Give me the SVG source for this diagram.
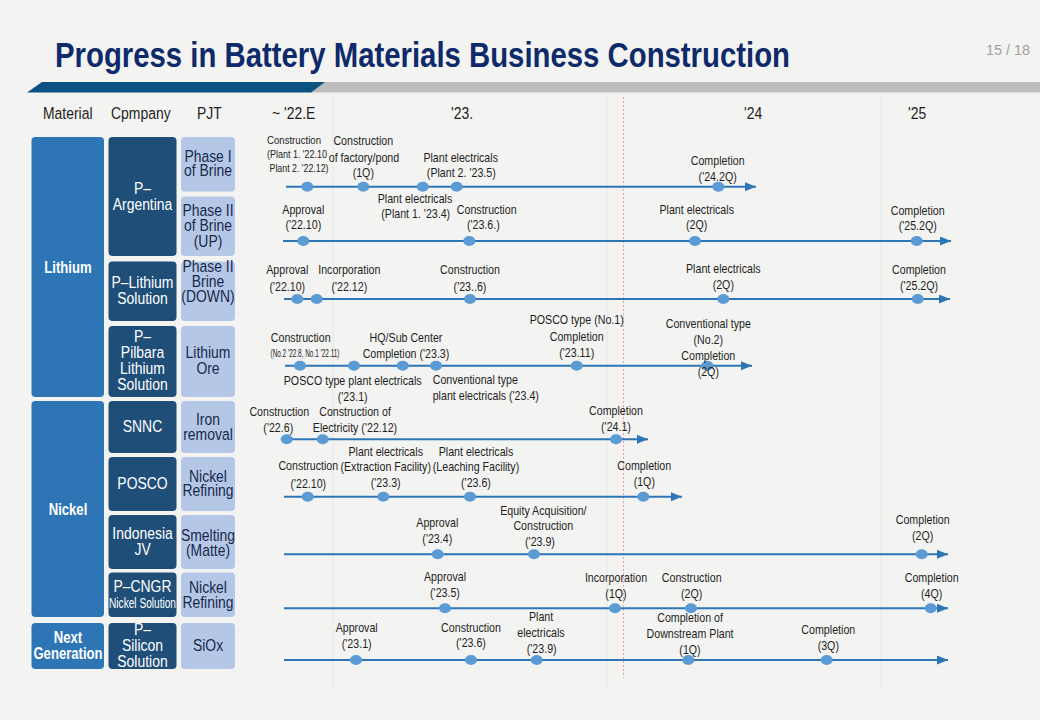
<svg xmlns="http://www.w3.org/2000/svg" width="1040" height="720" viewBox="0 0 1040 720">
<defs>
<style>
text{font-family:"Liberation Sans",Arial,sans-serif;}
.lb,.cotx,.pjtx,.cattx{transform:scaleX(0.82);transform-box:fill-box;transform-origin:center;}
.hd,.lbl{transform:scaleX(0.82);transform-box:fill-box;transform-origin:left center;}
.lb{font-size:13px;fill:#1e1e1e;text-anchor:middle;}
.lbl{font-size:13px;fill:#1e1e1e;text-anchor:start;}
.sm{font-size:11px;fill:#1e1e1e;text-anchor:middle;}
.hd{font-size:17px;fill:#1e1e1e;text-anchor:start;}
.cat{fill:#2e75b6;}
.co{fill:#1f4e79;}
.pj{fill:#b4c7e7;}
.cattx{font-size:16px;font-weight:bold;fill:#ffffff;text-anchor:middle;}
.cotx{font-size:17px;fill:#ffffff;text-anchor:middle;}
.cosm{font-size:14px;fill:#ffffff;text-anchor:middle;}
.pjtx{font-size:17px;fill:#182a4a;text-anchor:middle;}
.tl{stroke:#2e75b6;stroke-width:2;fill:none;marker-end:url(#arr);}
.dot{fill:#5b9bd5;}
</style>
<marker id="arr" markerUnits="userSpaceOnUse" markerWidth="12" markerHeight="10" refX="11" refY="4.5" orient="auto">
<path d="M0,0 L11,4.5 L0,9 z" fill="#2e75b6"/>
</marker>
</defs>
<rect x="0" y="0" width="1040" height="720" fill="#f3f3f1"/>

<g id="header">
<text x="55" y="67" font-size="35" font-weight="bold" fill="#0e2a6a" textLength="735" lengthAdjust="spacingAndGlyphs">Progress in Battery Materials Business Construction</text>
<text x="1030" y="55" font-size="15" fill="#a0a0a0" text-anchor="end" textLength="44" lengthAdjust="spacingAndGlyphs">15 / 18</text>
<rect x="310" y="82" width="730" height="10.5" fill="#bdbdbb"/>
<polygon points="27,92.5 42,82 325,82 311,92.5" fill="#0b5283"/>
<text class="hd" x="43" y="119">Material</text>
<text class="hd" x="111" y="119">Cpmpany</text>
<text class="hd" x="197" y="119">PJT</text>
<text class="hd" x="272" y="119">~ '22.E</text>
<text class="hd" x="451" y="119">'23.</text>
<text class="hd" x="744" y="119">'24</text>
<text class="hd" x="908" y="119">'25</text>
</g>

<g id="gridlines">
<line x1="333" y1="97" x2="333" y2="690" stroke="#e6e6e4" stroke-width="1"/>
<line x1="607" y1="97" x2="607" y2="690" stroke="#e6e6e4" stroke-width="1"/>
<line x1="881" y1="97" x2="881" y2="690" stroke="#e6e6e4" stroke-width="1"/>
<line x1="623.5" y1="97" x2="623.5" y2="678" stroke="#e9a3a3" stroke-width="1" stroke-dasharray="2,2"/>
</g>

<g id="cat-lithium"><rect class="cat" x="31.5" y="137" width="72.5" height="260" rx="4"/><text class="cattx" x="68" y="273">Lithium</text></g>
<g id="cat-nickel"><rect class="cat" x="31.5" y="401" width="72.5" height="216" rx="4"/><text class="cattx" x="68" y="515">Nickel</text></g>
<g id="cat-next"><rect class="cat" x="31.5" y="623" width="72.5" height="46" rx="4"/><text class="cattx" x="68" y="643">Next</text><text class="cattx" x="68" y="659">Generation</text></g>

<g id="co-argentina"><rect class="co" x="108.5" y="137" width="68" height="119" rx="4"/><text class="cotx" x="142.5" y="194">P–</text><text class="cotx" x="142.5" y="210">Argentina</text></g>
<g id="co-plithium"><rect class="co" x="108.5" y="261.5" width="68" height="59.5" rx="4"/><text class="cotx" x="142.5" y="288.5">P–Lithium</text><text class="cotx" x="142.5" y="304">Solution</text></g>
<g id="co-pilbara"><rect class="co" x="108.5" y="326" width="68" height="71" rx="4"/><text class="cotx" x="142.5" y="342.5">P–</text><text class="cotx" x="142.5" y="358.5">Pilbara</text><text class="cotx" x="142.5" y="374">Lithium</text><text class="cotx" x="142.5" y="390">Solution</text></g>
<g id="co-snnc"><rect class="co" x="108.5" y="401" width="68" height="52" rx="4"/><text class="cotx" x="142.5" y="432">SNNC</text></g>
<g id="co-posco"><rect class="co" x="108.5" y="457" width="68" height="54" rx="4"/><text class="cotx" x="142.5" y="489">POSCO</text></g>
<g id="co-indonesia"><rect class="co" x="108.5" y="515" width="68" height="54" rx="4"/><text class="cotx" x="142.5" y="539">Indonesia</text><text class="cotx" x="142.5" y="555">JV</text></g>
<g id="co-pcngr"><rect class="co" x="108.5" y="572.5" width="68" height="44.5" rx="4"/><text class="cotx" x="142.5" y="592">P–CNGR</text><text class="cosm" x="142.5" y="607.5" textLength="67" lengthAdjust="spacingAndGlyphs">Nickel Solution</text></g>
<g id="co-psilicon"><rect class="co" x="108.5" y="623" width="68" height="46" rx="4"/><text class="cotx" x="142.5" y="635">P–</text><text class="cotx" x="142.5" y="651.5">Silicon</text><text class="cotx" x="142.5" y="667">Solution</text></g>

<g id="pj-phase1"><rect class="pj" x="181" y="137" width="54" height="54.5" rx="4"/><text class="pjtx" x="208" y="162">Phase I</text><text class="pjtx" x="208" y="176.5">of Brine</text></g>
<g id="pj-phase2up"><rect class="pj" x="181" y="196.5" width="54" height="59.5" rx="4"/><text class="pjtx" x="208" y="216.5">Phase II</text><text class="pjtx" x="208" y="231.5">of Brine</text><text class="pjtx" x="208" y="247">(UP)</text></g>
<g id="pj-phase2down"><rect class="pj" x="181" y="261.5" width="54" height="59.5" rx="4"/><text class="pjtx" x="208" y="272">Phase II</text><text class="pjtx" x="208" y="287.5">Brine</text><text class="pjtx" x="208" y="302.5">(DOWN)</text></g>
<g id="pj-ore"><rect class="pj" x="181" y="326" width="54" height="71" rx="4"/><text class="pjtx" x="208" y="358.5">Lithium</text><text class="pjtx" x="208" y="374">Ore</text></g>
<g id="pj-iron"><rect class="pj" x="181" y="401" width="54" height="52" rx="4"/><text class="pjtx" x="208" y="425">Iron</text><text class="pjtx" x="208" y="440">removal</text></g>
<g id="pj-nickel1"><rect class="pj" x="181" y="457" width="54" height="54" rx="4"/><text class="pjtx" x="208" y="482">Nickel</text><text class="pjtx" x="208" y="496.5">Refining</text></g>
<g id="pj-smelting"><rect class="pj" x="181" y="515" width="54" height="54" rx="4"/><text class="pjtx" x="208" y="541">Smelting</text><text class="pjtx" x="208" y="556">(Matte)</text></g>
<g id="pj-nickel2"><rect class="pj" x="181" y="572.5" width="54" height="44.5" rx="4"/><text class="pjtx" x="208" y="593">Nickel</text><text class="pjtx" x="208" y="608">Refining</text></g>
<g id="pj-siox"><rect class="pj" x="181" y="623" width="54" height="46" rx="4"/><text class="pjtx" x="208" y="651.5">SiOx</text></g>

<g id="connectors">
<path class="tl" d="M286,186.7 H756"/>
<path class="tl" d="M283,241 H951"/>
<path class="tl" d="M284,299 H950"/>
<path class="tl" d="M285,365.7 H752"/>
<path class="tl" d="M284,439.3 H648"/>
<path class="tl" d="M284,496.7 H682"/>
<path class="tl" d="M284,554.3 H948"/>
<path class="tl" d="M284,608.3 H948"/>
<path class="tl" d="M284,660 H948"/>
</g>

<g id="row-phase1">
<ellipse class="dot" cx="307.3" cy="186.7" rx="6" ry="5"/><ellipse class="dot" cx="363.3" cy="186.7" rx="6" ry="5"/><ellipse class="dot" cx="422.7" cy="186.7" rx="6" ry="5"/><ellipse class="dot" cx="456.7" cy="186.7" rx="6" ry="5"/><ellipse class="dot" cx="718.3" cy="186.7" rx="6" ry="5"/>
<text class="sm" x="294" y="144" textLength="54" lengthAdjust="spacingAndGlyphs">Construction</text>
<text class="sm" x="297" y="158" textLength="60" lengthAdjust="spacingAndGlyphs">(Plant 1. '22.10</text>
<text class="sm" x="299" y="172" textLength="59" lengthAdjust="spacingAndGlyphs">Plant 2. '22.12)</text>
<text class="lb" x="363.3" y="145.5">Construction</text>
<text class="lb" x="364" y="162">of factory/pond</text>
<text class="lb" x="363.3" y="177.5">(1Q)</text>
<text class="lb" x="460.7" y="162">Plant electricals</text>
<text class="lb" x="461.3" y="177.5">(Plant 2. '23.5)</text>
<text class="lb" x="415" y="203.5">Plant electricals</text>
<text class="lb" x="415.7" y="218.5">(Plant 1. '23.4)</text>
<text class="lb" x="717.7" y="165.5">Completion</text>
<text class="lb" x="717.7" y="181">('24.2Q)</text>
</g>

<g id="row-phase2up">
<ellipse class="dot" cx="303.3" cy="241" rx="6" ry="5"/><ellipse class="dot" cx="469.3" cy="241" rx="6" ry="5"/><ellipse class="dot" cx="695" cy="241" rx="6" ry="5"/><ellipse class="dot" cx="916.7" cy="241" rx="6" ry="5"/>
<text class="lb" x="303.3" y="214.5">Approval</text><text class="lb" x="303.3" y="229.5">('22.10)</text>
<text class="lb" x="486.7" y="214.5">Construction</text><text class="lb" x="483.3" y="229.5">('23.6.)</text>
<text class="lb" x="696.7" y="214.5">Plant electricals</text><text class="lb" x="696.7" y="229.5">(2Q)</text>
<text class="lb" x="917.7" y="215.5">Completion</text><text class="lb" x="917.7" y="230.5">('25.2Q)</text>
</g>

<g id="row-phase2down">
<ellipse class="dot" cx="297.3" cy="299" rx="6" ry="5"/><ellipse class="dot" cx="316.7" cy="299" rx="6" ry="5"/><ellipse class="dot" cx="470" cy="299" rx="6" ry="5"/><ellipse class="dot" cx="723.3" cy="299" rx="6" ry="5"/><ellipse class="dot" cx="917.7" cy="299" rx="6" ry="5"/>
<text class="lb" x="287.3" y="274.5">Approval</text><text class="lb" x="287.3" y="291">('22.10)</text>
<text class="lb" x="349.3" y="274.5">Incorporation</text><text class="lb" x="349.3" y="291">('22.12)</text>
<text class="lb" x="470" y="274.5">Construction</text><text class="lb" x="470" y="291">('23..6)</text>
<text class="lb" x="723.3" y="273.5">Plant electricals</text><text class="lb" x="723.3" y="289.5">(2Q)</text>
<text class="lb" x="919" y="274.5">Completion</text><text class="lb" x="919" y="290.5">('25.2Q)</text>
</g>

<g id="row-ore">
<ellipse class="dot" cx="300" cy="365.7" rx="6" ry="5"/><ellipse class="dot" cx="354" cy="365.7" rx="6" ry="5"/><ellipse class="dot" cx="402.7" cy="365.7" rx="6" ry="5"/><ellipse class="dot" cx="436" cy="365.7" rx="6" ry="5"/><ellipse class="dot" cx="576.7" cy="365.7" rx="6" ry="5"/><ellipse class="dot" cx="707.3" cy="365.7" rx="6" ry="5"/>
<text class="lb" x="300.7" y="342">Construction</text>
<text class="sm" x="305" y="357" font-size="9" textLength="69" lengthAdjust="spacingAndGlyphs">(No.2 '22.8, No.1 '22.11)</text>
<text class="lb" x="406" y="342">HQ/Sub Center</text><text class="lb" x="406" y="358.5">Completion ('23.3)</text>
<text class="lb" x="576.7" y="324.5">POSCO type (No.1)</text><text class="lb" x="576.7" y="341">Completion</text><text class="lb" x="576.7" y="357.5">('23.11)</text>
<text class="lb" x="708.3" y="328.5">Conventional type</text><text class="lb" x="708.3" y="344.5">(No.2)</text><text class="lb" x="708.3" y="360.5">Completion</text><text class="lb" x="708.3" y="376">(2Q)</text>
<text class="lb" x="352.7" y="385.5">POSCO type plant electricals</text><text class="lb" x="352.7" y="401">('23.1)</text>
<text class="lbl" x="432.7" y="384.5">Conventional type</text><text class="lbl" x="432.7" y="400">plant electricals ('23.4)</text>
</g>

<g id="row-snnc">
<ellipse class="dot" cx="286.7" cy="439.3" rx="6" ry="5"/><ellipse class="dot" cx="322.7" cy="439.3" rx="6" ry="5"/><ellipse class="dot" cx="616" cy="439.3" rx="6" ry="5"/>
<text class="lb" x="279.3" y="416.5">Construction</text><text class="lb" x="278.3" y="432.5">('22.6)</text>
<text class="lb" x="355" y="416.5">Construction of</text><text class="lb" x="355" y="432.5">Electricity ('22.12)</text>
<text class="lb" x="616" y="415">Completion</text><text class="lb" x="616" y="431">('24.1)</text>
</g>

<g id="row-posco">
<ellipse class="dot" cx="307.7" cy="496.7" rx="6" ry="5"/><ellipse class="dot" cx="383.3" cy="496.7" rx="6" ry="5"/><ellipse class="dot" cx="470" cy="496.7" rx="6" ry="5"/><ellipse class="dot" cx="643.3" cy="496.7" rx="6" ry="5"/>
<text class="lb" x="385.7" y="456">Plant electricals</text><text class="lb" x="385.7" y="471.5">(Extraction Facility)</text><text class="lb" x="385.7" y="487.5">('23.3)</text>
<text class="lb" x="476" y="456">Plant electricals</text><text class="lb" x="476" y="471.5">(Leaching Facility)</text><text class="lb" x="476" y="487.5">('23.6)</text>
<text class="lb" x="308.3" y="470.5">Construction</text><text class="lb" x="308.3" y="488.5">('22.10)</text>
<text class="lb" x="644.3" y="470">Completion</text><text class="lb" x="644.3" y="486">(1Q)</text>
</g>

<g id="row-indonesia">
<ellipse class="dot" cx="437.7" cy="554.3" rx="6" ry="5"/><ellipse class="dot" cx="534" cy="554.3" rx="6" ry="5"/><ellipse class="dot" cx="921.7" cy="554.3" rx="6" ry="5"/>
<text class="lb" x="437.3" y="527.5">Approval</text><text class="lb" x="437.3" y="543.5">('23.4)</text>
<text class="lb" x="543.3" y="515">Equity Acquisition/</text><text class="lb" x="543.3" y="530">Construction</text><text class="lb" x="540" y="546">('23.9)</text>
<text class="lb" x="922.7" y="524.5">Completion</text><text class="lb" x="922.7" y="540">(2Q)</text>
</g>

<g id="row-pcngr">
<ellipse class="dot" cx="445" cy="608.3" rx="6" ry="5"/><ellipse class="dot" cx="615" cy="608.3" rx="6" ry="5"/><ellipse class="dot" cx="691" cy="608.3" rx="6" ry="5"/><ellipse class="dot" cx="930.7" cy="608.3" rx="6" ry="5"/>
<text class="lb" x="445" y="581.5">Approval</text><text class="lb" x="445" y="597.5">('23.5)</text>
<text class="lb" x="616" y="582.5">Incorporation</text><text class="lb" x="616" y="598.5">(1Q)</text>
<text class="lb" x="691.7" y="582.5">Construction</text><text class="lb" x="691.7" y="598.5">(2Q)</text>
<text class="lb" x="931.7" y="582.5">Completion</text><text class="lb" x="931.7" y="598.5">(4Q)</text>
</g>

<g id="row-siox">
<ellipse class="dot" cx="356" cy="660" rx="6" ry="5"/><ellipse class="dot" cx="471" cy="660" rx="6" ry="5"/><ellipse class="dot" cx="536.7" cy="660" rx="6" ry="5"/><ellipse class="dot" cx="688.3" cy="660" rx="6" ry="5"/><ellipse class="dot" cx="826.7" cy="660" rx="6" ry="5"/>
<text class="lb" x="356.7" y="632.5">Approval</text><text class="lb" x="356.7" y="648.5">('23.1)</text>
<text class="lb" x="471" y="632">Construction</text><text class="lb" x="471" y="647.5">('23.6)</text>
<text class="lb" x="541" y="621.5">Plant</text><text class="lb" x="541" y="637.5">electricals</text><text class="lb" x="541.7" y="653.5">('23.9)</text>
<text class="lb" x="690" y="622">Completion of</text><text class="lb" x="690" y="638.5">Downstream Plant</text><text class="lb" x="690" y="654.5">(1Q)</text>
<text class="lb" x="828.3" y="634.5">Completion</text><text class="lb" x="828.3" y="650">(3Q)</text>
</g>
</svg>
